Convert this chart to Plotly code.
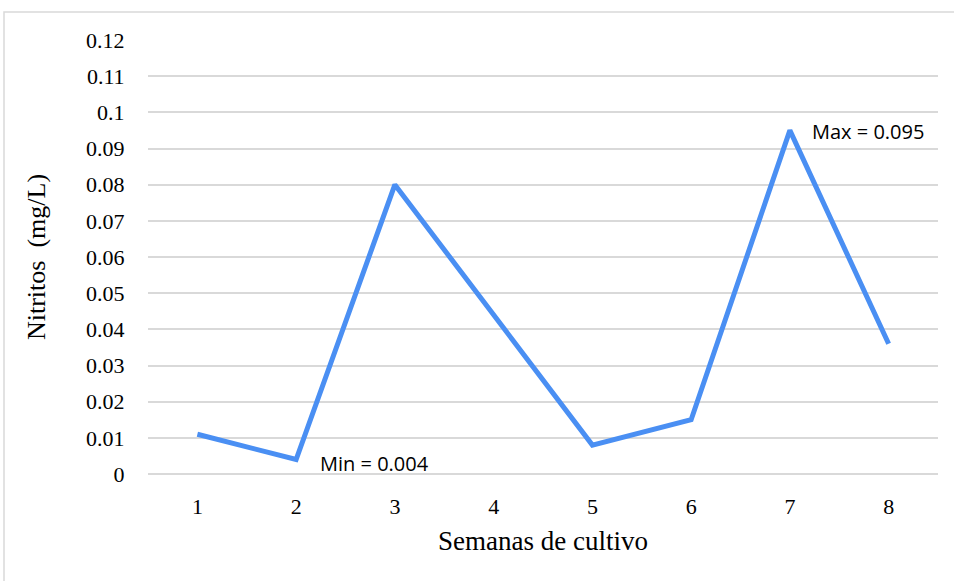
import plotly.graph_objects as go

# Weekly nitrite readings over the culture period
semanas = [1, 2, 3, 4, 5, 6, 7, 8]
nitritos = [0.011, 0.004, 0.080, 0.044, 0.008, 0.015, 0.095, 0.036]
y_ticks = [0, 0.01, 0.02, 0.03, 0.04, 0.05, 0.06, 0.07, 0.08, 0.09, 0.1, 0.11, 0.12]
y_tick_text = ["0", "0.01", "0.02", "0.03", "0.04", "0.05", "0.06", "0.07",
               "0.08", "0.09", "0.1", "0.11", "0.12"]

serif = "Liberation Serif, Times New Roman, serif"
sans = "Open Sans, Liberation Sans, sans-serif"

fig = go.Figure()
fig.add_trace(go.Scatter(
    x=semanas, y=nitritos, mode="lines",
    line=dict(color="#4a8ff3", width=5),
    hoverinfo="x+y",
))

i_min = nitritos.index(min(nitritos))
i_max = nitritos.index(max(nitritos))
fig.add_annotation(x=semanas[i_min], y=nitritos[i_min], text=f"Min = {nitritos[i_min]}",
                   showarrow=False, xanchor="left", yanchor="middle", xshift=22, yshift=-4,
                   font=dict(family=sans, size=20, color="#000000"))
fig.add_annotation(x=semanas[i_max], y=nitritos[i_max], text=f"Max = {nitritos[i_max]}",
                   showarrow=False, xanchor="left", yanchor="middle", xshift=20, yshift=-1,
                   font=dict(family=sans, size=20, color="#000000"))

# Outer chart frame
fig.add_shape(type="rect", xref="paper", yref="paper",
              x0=-144 / 790, x1=1.05, y0=-0.3, y1=1 + 28 / 434,
              line=dict(color="#d9d9d9", width=1.5), fillcolor="rgba(0,0,0,0)", layer="below")

fig.update_layout(
    width=954, height=581,
    margin=dict(l=148, r=16, t=40, b=107),
    paper_bgcolor="white", plot_bgcolor="white",
    showlegend=False,
    font=dict(family=serif, color="#000000"),
    xaxis=dict(
        range=[0.5, 8.5], tickmode="array", tickvals=semanas,
        ticks="outside", ticklen=13, tickcolor="rgba(0,0,0,0)",
        showgrid=False, zeroline=False, showline=False,
        tickfont=dict(family=serif, size=22),
        title=dict(text="Semanas de cultivo", font=dict(family=serif, size=27), standoff=12),
    ),
    yaxis=dict(
        range=[0, 0.12], tickmode="array", tickvals=y_ticks, ticktext=y_tick_text,
        ticks="outside", ticklen=18, tickcolor="rgba(0,0,0,0)",
        showgrid=True, gridcolor="#d9d9d9", gridwidth=1.5,
        zeroline=True, zerolinecolor="#d9d9d9", zerolinewidth=1.5, showline=False,
        tickfont=dict(family=serif, size=22),
        title=dict(text="Nitritos  (mg/L)", font=dict(family=serif, size=26), standoff=32),
    ),
)

fig.write_html("out.html")
